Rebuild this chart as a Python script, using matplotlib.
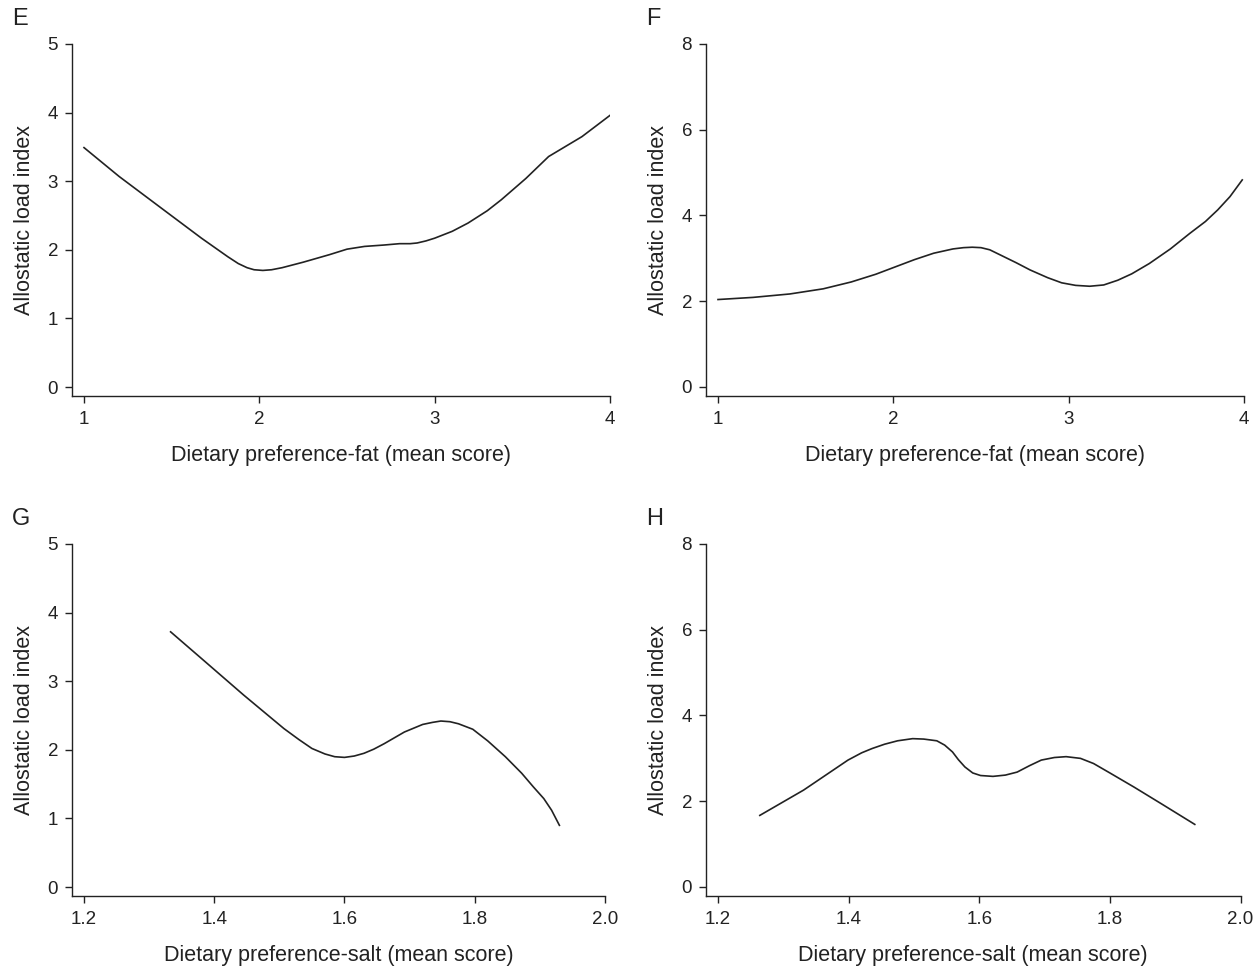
import matplotlib
matplotlib.use("Agg")
import matplotlib.pyplot as plt

plt.rcParams['font.family'] = ['Liberation Sans', 'DejaVu Sans']

# panel E: fat, model 1
fat_x_e = [1.0, 1.2, 1.44, 1.67, 1.82, 1.88, 1.93, 1.97, 2.02, 2.07, 2.13, 2.25, 2.40, 2.50,
           2.60, 2.71, 2.80, 2.86, 2.90, 2.95, 3.0, 3.10, 3.19, 3.30, 3.38, 3.52, 3.65, 3.84, 4.0]
fat_y_e = [3.49, 3.07, 2.61, 2.17, 1.90, 1.80, 1.74, 1.71, 1.70, 1.71, 1.74, 1.82, 1.93, 2.01,
           2.05, 2.07, 2.09, 2.09, 2.10, 2.13, 2.17, 2.27, 2.39, 2.57, 2.73, 3.04, 3.36, 3.65, 3.96]

# panel F: fat, model 2
fat_x_f = [1.0, 1.2, 1.41, 1.6, 1.76, 1.9, 2.01, 2.12, 2.23, 2.34, 2.40, 2.45, 2.50, 2.55,
           2.62, 2.70, 2.78, 2.88, 2.96, 3.04, 3.12, 3.20, 3.28, 3.36, 3.46, 3.58, 3.69,
           3.78, 3.85, 3.92, 3.99]
fat_y_f = [2.04, 2.09, 2.17, 2.29, 2.45, 2.63, 2.80, 2.97, 3.12, 3.22, 3.25, 3.26, 3.25, 3.20,
           3.06, 2.90, 2.73, 2.55, 2.43, 2.37, 2.35, 2.38, 2.49, 2.64, 2.88, 3.22, 3.58,
           3.86, 4.13, 4.44, 4.83]

# panel G: salt, model 1
salt_x_g = [1.333, 1.383, 1.445, 1.507, 1.53, 1.55, 1.57, 1.585, 1.60, 1.615, 1.63, 1.645,
            1.661, 1.692, 1.72, 1.735, 1.748, 1.762, 1.775, 1.797, 1.82, 1.847, 1.872,
            1.89, 1.906, 1.918, 1.93]
salt_y_g = [3.72, 3.31, 2.80, 2.31, 2.15, 2.02, 1.94, 1.90, 1.89, 1.91, 1.95, 2.01,
            2.09, 2.26, 2.37, 2.40, 2.42, 2.41, 2.38, 2.30, 2.13, 1.90, 1.66,
            1.46, 1.29, 1.12, 0.90]

# panel H: salt, model 2
salt_x_h = [1.264, 1.331, 1.399, 1.42, 1.436, 1.455, 1.475, 1.498, 1.515, 1.535, 1.547,
            1.559, 1.568, 1.578, 1.590, 1.602, 1.621, 1.64, 1.658, 1.677, 1.695, 1.715,
            1.733, 1.755, 1.775, 1.80, 1.837, 1.88, 1.93]
salt_y_h = [1.67, 2.26, 2.96, 3.13, 3.23, 3.33, 3.41, 3.46, 3.45, 3.41, 3.31,
            3.15, 2.97, 2.80, 2.66, 2.60, 2.58, 2.61, 2.68, 2.83, 2.96, 3.02,
            3.04, 3.00, 2.88, 2.66, 2.33, 1.93, 1.46]

fat_ticks = [1, 2, 3, 4]
salt_ticks = [1.2, 1.4, 1.6, 1.8, 2.0]
salt_labels = ['1.2', '1.4', '1.6', '1.8', '2.0']

W, H = 1259, 966
fig = plt.figure(figsize=(W / 100, H / 100), dpi=100)

panels = [
    # letter, x, y, left, right, top, bottom px, xlim, ylim, yticks, xlabel
    ('E', fat_x_e, fat_y_e, 72, 610, 44, 396, (0.9315, 4), (-0.13, 5), [0, 1, 2, 3, 4, 5],
     'Dietary preference-fat (mean score)', fat_ticks, None),
    ('F', fat_x_f, fat_y_f, 706, 1244, 44, 396, (0.9315, 4), (-0.21, 8), [0, 2, 4, 6, 8],
     'Dietary preference-fat (mean score)', fat_ticks, None),
    ('G', salt_x_g, salt_y_g, 72, 605, 544, 896, (1.1816, 2.0), (-0.13, 5), [0, 1, 2, 3, 4, 5],
     'Dietary preference-salt (mean score)', salt_ticks, salt_labels),
    ('H', salt_x_h, salt_y_h, 706, 1240.5, 544, 896, (1.1816, 2.0), (-0.21, 8), [0, 2, 4, 6, 8],
     'Dietary preference-salt (mean score)', salt_ticks, salt_labels),
]

ink = '#222222'
for letter, xs, ys, l, r, t, b, xlim, ylim, yticks, xlabel, xticks, xticklabels in panels:
    ax = fig.add_axes([l / W, 1 - b / H, (r - l) / W, (b - t) / H])
    ax.plot(xs, ys, color=ink, lw=1.2)
    ax.set_xlim(*xlim)
    ax.set_ylim(*ylim)
    ax.set_xticks(xticks)
    if xticklabels:
        ax.set_xticklabels(xticklabels)
    ax.set_yticks(yticks)
    for s in ['top', 'right']:
        ax.spines[s].set_visible(False)
    for s in ['left', 'bottom']:
        ax.spines[s].set_color(ink)
        ax.spines[s].set_linewidth(1.0)
    ax.tick_params(axis='both', direction='out', length=5, width=1.0, color=ink,
                   labelsize=13.5, labelcolor=ink)
    ax.tick_params(axis='x', pad=6)
    ax.tick_params(axis='y', pad=5)
    ax.set_xlabel(xlabel, fontsize=15.5, color=ink, labelpad=12)
    ax.set_ylabel('Allostatic load index', fontsize=15.5, color=ink, labelpad=9)
    fig.text((l - 60) / W, 1 - (t - 25) / H, letter, fontsize=17, color=ink,
             ha='left', va='center')

fig.savefig('out.png', dpi=100)
